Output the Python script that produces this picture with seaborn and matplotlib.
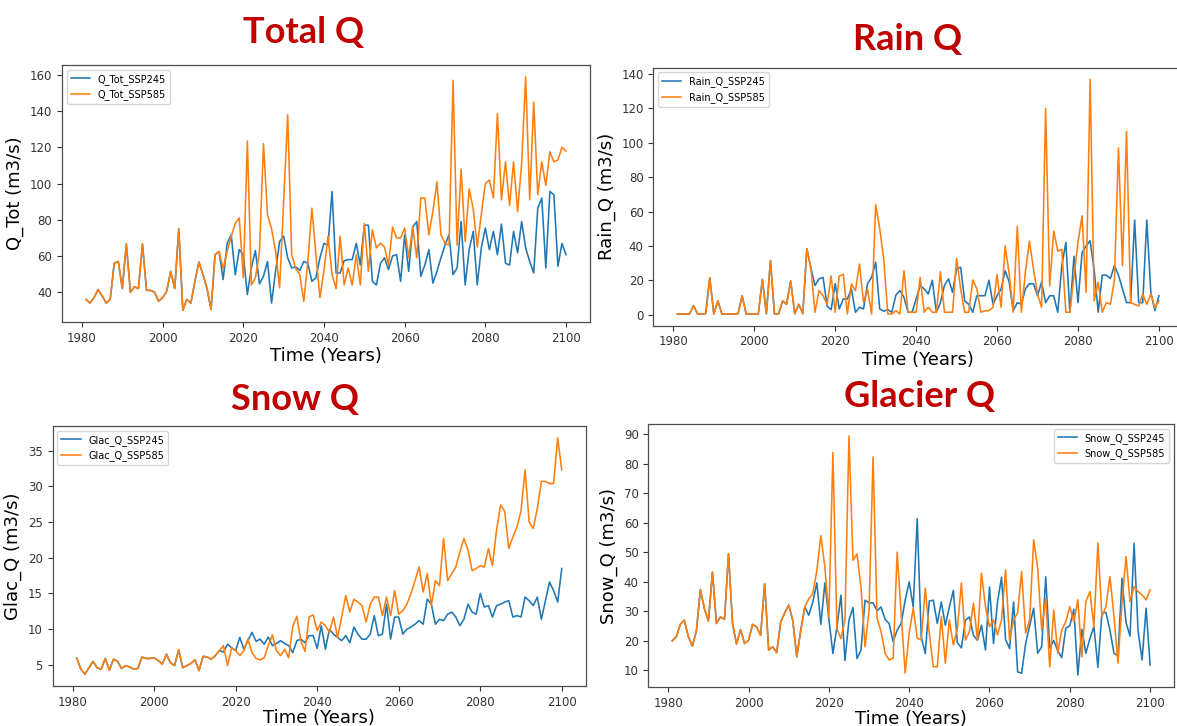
import numpy as np
import pandas as pd
import matplotlib
matplotlib.use("Agg")
import matplotlib.pyplot as plt
import seaborn as sns

# ---------------- data ----------------
years = list(range(1981, 2101))

# historical period 1981-2014 (shared by both scenarios)
q_tot_hist = [36, 34, 37, 41.5, 38, 34, 36, 56, 57, 42, 66.6, 40, 43, 42, 66.6, 41, 41, 40, 35, 37,
              40.5, 51.5, 42, 75, 30, 36, 34, 46, 56.7, 49.7, 42, 30.5, 60.7, 62.5]
rain_hist = [0.4, 0.4, 0.4, 0.4, 5.2, 0.4, 0.4, 0.6, 21.5, 0.4, 8, 0.4, 0.4, 0.4, 0.4, 0.6, 11, 0.4, 0.4, 0.4,
             0.4, 20.5, 0.5, 31.5, 0.4, 0.4, 8, 6, 19.6, 0.5, 6, 0.5, 38.4, 27]
glac_hist = [5.94, 4.4, 3.7, 4.6, 5.5, 4.6, 4.4, 5.9, 4.25, 5.8, 5.5, 4.5, 4.9, 4.7, 4.4, 4.5, 6.1, 5.9, 5.9, 6.0,
             5.6, 5.1, 6.5, 5.3, 4.9, 7.1, 4.6, 4.9, 5.2, 5.7, 4.2, 6.2, 6.1, 5.8]
snow_hist = [19.9, 21.3, 25.5, 26.9, 21.3, 18.1, 23.3, 37.3, 30.8, 26.6, 43.2, 25.8, 28.0, 27.2, 49.4, 25.8, 18.8,
             23.7, 19.0, 20.1, 25.5, 24.6, 21.8, 39.3, 16.8, 17.9, 15.9, 26.3, 29.4, 32.0, 26.9, 14.5, 23.5, 31.4]

# projections 2015-2100
q_tot_245 = [47, 67, 71.7, 49.7, 63.5, 60.7, 38.7, 53.4, 63, 44.6, 48.8, 57, 34, 51.5, 68, 71, 59, 53.4, 54, 52,
             57, 56, 46, 48, 59, 67, 66,
             95.6, 50.6, 50.6, 57.4, 58, 58, 67, 55, 77, 77, 46, 44, 56, 59, 52.5, 60, 60.7, 46, 71.7, 51.5,
             76, 79, 48.8, 55, 63.5, 45, 51.5, 59, 66, 71.7, 49.7, 53.4, 79, 44, 63.5, 73.6, 44, 64.4, 75.4,
             63.5, 73.6, 60.7, 77.6, 56, 55, 73.6, 61.7, 79, 64.4, 57, 50.6, 86.4, 92, 53.4, 95.6, 93.8, 54.3,
             67, 60.7]
q_tot_585 = [53, 62.6, 70.8, 78, 81, 48, 123.5, 44, 48, 62, 122, 82.7, 75, 62.6, 42.4, 90, 138, 60.7, 53, 49.7,
             35, 57, 86.4, 60.7, 37, 52, 71,
             49.7, 42, 71, 44, 53.4, 44, 60.7, 44, 78, 51.5, 74.5, 64.4, 67, 65, 55, 76, 70, 70, 75.4, 59,
             76, 59, 92, 92, 71.7, 84.6, 101, 71.7, 67, 66, 157, 66, 108, 68, 97, 86, 65, 83, 100, 102, 92,
             138.7, 91, 112, 88, 112, 84.6, 111, 159, 91, 145, 93.8, 112, 99, 117.6, 112, 113, 120, 118]

rain_245 = [17, 20.8, 21.7, 5, 2.9, 18.1, 3.3, 9.1, 9.1, 15, 1.4, 4.3, 3.3, 18.1, 21.7, 30.5, 3.3, 2, 2.9, 1.4,
            11.4, 14, 10,
            1.4, 1.4, 9, 17, 15, 12, 20, 1.4, 7, 17, 20.8, 13, 26.6, 27.6, 8, 6, 1.4, 11, 11, 11, 20, 6, 11,
            15, 25.6, 19, 2.3, 7, 6, 15, 18, 18, 11, 19, 7, 11, 11, 1.4, 28.5, 42, 1.4, 34, 7, 36, 40, 43, 26,
            1.4, 23, 23, 21, 28.5, 23, 15, 7, 7, 55, 7, 7, 55, 13, 2.3, 11]
rain_585 = [1.4, 14, 11, 6, 22.5, 1.4, 22.5, 23.5, 0.4, 17.9, 14, 29.5, 7, 14.8, 0.4, 64, 50, 32.4, 0.4, 0.4,
            2.3, 0.4, 25.6,
            1.4, 1.4, 1.4, 21.7, 1.4, 4.3, 1.4, 1.4, 25, 1.4, 1.4, 1.4, 32.8, 15, 1.4, 1.4, 20.2, 15, 1.4,
            2.3, 2.3, 4.3, 23.3, 4.3, 40, 23.7, 1.4, 51.5, 1.4, 24.7, 42.7, 26.6, 12, 4.3, 120, 16.7, 48.7,
            37, 38, 1.4, 1.4, 22.5, 42, 57.5, 13, 137, 8, 18.8, 1.4, 7, 6, 20, 97, 28.5, 106.6, 7, 6, 5, 12,
            6, 12, 4, 8]

glac_245 = [6.3, 7.0, 6.8, 7.9, 7.4, 7.0, 8.85, 7.2, 8.4, 9.55, 8.3, 8.6, 7.9, 8.9, 7.7, 8.0, 8.4, 8.0, 7.7, 6.7,
            8.4, 8.6, 8.1, 9.1, 9.1, 7.3,
            10.5, 7.2, 10.0, 9.3, 8.85, 8.4, 9.1, 8.1, 10.3, 9.3, 8.6, 8.6, 9.3, 11.9, 9.1, 9.3, 13.5, 8.6,
            11.7, 11.7, 9.3, 10.0, 10.3, 10.7, 11.2, 10.7, 14.2, 13.5, 10.7, 11.4, 11.2, 12.1, 12.4, 11.7,
            10.5, 11.4, 13.5, 12.4, 12.1, 15.0, 13.1, 13.3, 11.7, 13.3, 13.5, 13.8, 14.0, 11.7, 11.9, 11.7,
            14.5, 14.0, 13.3, 14.5, 11.4, 14, 16.6, 15.4, 13.8, 18.5]
glac_585 = [6.3, 7.0, 7.7, 4.9, 7.4, 7.0, 6.3, 7.0, 8.6, 6.7, 5.9, 5.7, 6.0, 7.7, 9.2, 7.0, 6.3, 7.2, 6.0, 10.4,
            11.8, 8.3, 6.9, 11.7, 12.0, 9.8,
            11.0, 10.5, 9.55, 11.7, 8.85, 11.7, 14.7, 12.4, 14.2, 13.8, 13.3, 11.0, 13.5, 14.5, 14.5, 11.9,
            14.5, 11.9, 15.4, 12.1, 12.6, 13.5, 15.0, 16.8, 18.7, 15.2, 17.8, 13.3, 16.8, 16.1, 22.7, 16.8,
            17.8, 18.7, 20.8, 22.7, 21.1, 18.2, 18.5, 18.9, 18.7, 21.3, 18.9, 23.9, 27.4, 26.5, 21.3, 22.9,
            24.3, 26.5, 32.3, 25.0, 24.1, 26.9, 30.7, 30.7, 30.4, 30.4, 36.8, 32.3]

snow_245 = [28.6, 33.1, 39.6, 25.5, 39.6, 27.2, 15.6, 24.6, 35.4, 13.2, 26.9, 31.2, 13.9, 16.8, 33.7, 32.8, 32.8,
            30.1, 31.4, 27.2, 25.8, 19.6, 23.5,
            25.8, 33.7, 39.9, 31.4, 61.3, 21.3, 15.6, 33.4, 33.7, 25.8, 33.1, 25.2, 31.4, 37.0, 19.3, 17.5,
            26.9, 28.0, 21.8, 20.1, 25.2, 16.8, 38.2, 19.0, 33.1, 41.5, 20.4, 17.3, 33.1, 9.4, 8.9, 19.0, 25,
            31, 15.7, 17.9, 41.6, 17.4, 20.0, 16.5, 14.2, 24.2, 25.0, 30.6, 8.3, 23.8, 15.7, 20.7, 24.7, 10.9,
            29.5, 29.5, 23.5, 15.7, 14.8, 41.1, 26.1, 21.5, 53, 23.3, 13.4, 31, 11.7]
snow_585 = [34.2, 35.9, 43.8, 55.6, 44.9, 28, 83.8, 24, 20.7, 27, 89.4, 47.2, 49.4, 38.2, 17.9, 30, 82.3, 27.5,
            23, 15.6, 13.4, 14, 50, 29, 9,
            22.5, 31, 20.8, 20.2, 37.8, 22.5, 11.1, 11.1, 28.1, 12.3, 27, 18.5, 24, 39.5, 20.2, 23, 32.7,
            20.2, 42.9, 31.5, 24.7, 27, 21.9, 27, 44, 20.2, 27, 29.3, 43.4, 22.5, 27, 54.2, 44.6, 23.6, 34.4,
            11.1, 30.4, 15.7, 23.6, 26.4, 31.5, 26.4, 33.8, 14.5, 33.2, 36.6, 24.7, 53.1, 28.1, 31.5, 41.7,
            28.1, 12.3, 32.7, 48.5, 33.2, 38.3, 36.6, 35.5, 33.8, 37.2]

panel_titles = ["Total Q", "Rain Q", "Snow Q", "Glacier Q"]

# ---------------- figure ----------------
plt.rcParams["font.family"] = ["DejaVu Sans"]
fig = plt.figure(figsize=(11.77, 7.26), dpi=100)
W, H = 1177.0, 726.0


def rect(left, top, right, bottom):
    return [left / W, 1 - bottom / H, (right - left) / W, (bottom - top) / H]


BLUE, ORANGE = "#1f77b4", "#ff7f0e"

panels = [
    # axes rect, hist, ssp245, ssp585, prefix, y label, legend loc, x-label pad
    (rect(62, 65, 590, 322), q_tot_hist, q_tot_245, q_tot_585, "Q_Tot", "Q_Tot (m3/s)", "upper left", 2),
    (rect(653.3, 67.5, 1183, 325.7), rain_hist, rain_245, rain_585, "Rain_Q", "Rain_Q (m3/s)", "upper left", 2),
    (rect(52.5, 426, 586, 686), glac_hist, glac_245, glac_585, "Glac_Q", "Glac_Q (m3/s)", "upper left", 0),
    (rect(648.4, 424, 1174, 687), snow_hist, snow_245, snow_585, "Snow_Q", "Snow_Q (m3/s)", "upper right", 0),
]

for box, hist, s245, s585, prefix, ylab, loc, xpad in panels:
    ax = fig.add_axes(box)
    df = pd.DataFrame({
        "Year": years,
        f"{prefix}_SSP245": hist + s245,
        f"{prefix}_SSP585": hist + s585,
    })
    sns.lineplot(data=df, x="Year", y=f"{prefix}_SSP245", color=BLUE, linewidth=1.15,
                 label=f"{prefix}_SSP245", ax=ax)
    sns.lineplot(data=df, x="Year", y=f"{prefix}_SSP585", color=ORANGE, linewidth=1.15,
                 label=f"{prefix}_SSP585", ax=ax)
    ax.set_xticks([1980, 2000, 2020, 2040, 2060, 2080, 2100])
    ax.set_xlabel("Time (Years)", fontsize=13, labelpad=xpad)
    ax.set_ylabel(ylab, fontsize=13, labelpad=4)
    ax.tick_params(labelsize=8.5, colors="0.2", length=3.5, width=0.8)
    for sp in ax.spines.values():
        sp.set_color("0.3")
        sp.set_linewidth(0.9)
    leg = ax.legend(loc=loc, fontsize=7, frameon=True, handlelength=2.0)
    leg.get_frame().set_edgecolor("0.8")

title_kw = dict(ha="center", va="baseline", fontsize=26, fontweight="bold",
                color="#C00000", family=["Lato", "DejaVu Sans"])
fig.text(304 / W, 1 - 43 / H, panel_titles[0], **title_kw)
fig.text(908 / W, 1 - 50 / H, panel_titles[1], **title_kw)
fig.text(295 / W, 1 - 410 / H, panel_titles[2], **title_kw)
fig.text(920 / W, 1 - 407 / H, panel_titles[3], **title_kw)

fig.savefig("out.png", dpi=100, facecolor="white")
